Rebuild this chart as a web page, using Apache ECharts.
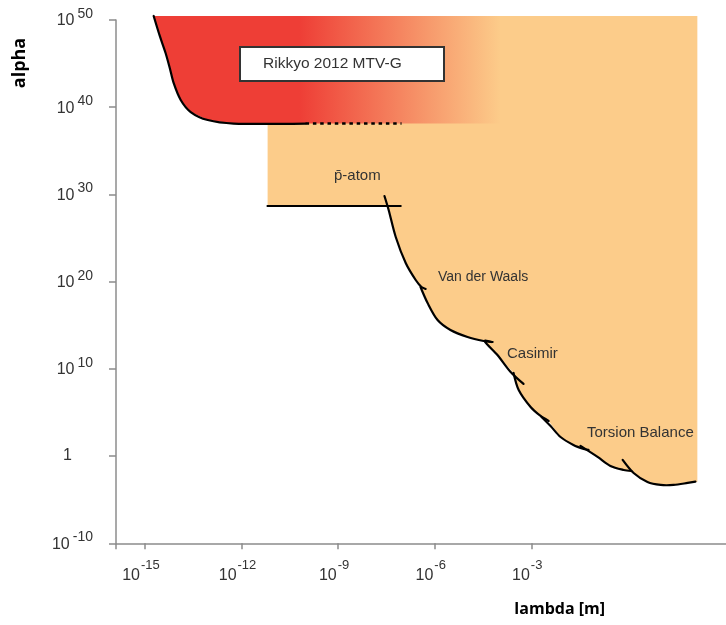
<!DOCTYPE html>
<html>
<head>
<meta charset="utf-8">
<script src="https://cdn.jsdelivr.net/npm/echarts@6/dist/echarts.min.js"></script>
<style>
html,body{margin:0;padding:0;background:#fff;}
#chart{width:726px;height:625px;}
</style>
</head>
<body>
<div id="chart"></div>
<script>
// ---- Axes (log10 values) ----
const xTicks = [-15, -12, -9, -6, -3];
const yTicks = [-10, 0, 10, 20, 30, 40, 50];

// ---- Rikkyo 2012 MTV-G excluded region boundary (log10 lambda, log10 alpha) ----
const rikkyoX = [-14.73, -14.54, -14.36, -14.23, -14.11, -13.89, -13.58, -13.05, -12.25, -10.01];
const rikkyoY = [50.46, 48.17, 46.22, 44.50, 42.78, 40.83, 39.45, 38.53, 38.13, 38.13];
// dotted continuation
const dottedX = [-10.01, -7.03];
const dottedY = [38.13, 38.13];
// gradient region right edge
const rikkyoFadeX = -3.95;

// ---- Excluded region (orange) envelope ----
const regionTop = 50.46;
const regionX = [-11.19, 2.16, 2.16, 2.10, 1.86, 1.42, 1.02, 0.61, 0.18, -0.13, -0.54, -0.94, -1.37, -1.69, -2.09, -2.46, -2.71, -3.02, -3.39, -3.55, -4.05, -4.48, -4.98, -5.51, -5.91, -6.22, -6.41, -6.59, -6.90, -7.21, -7.43, -7.48, -11.19];
const regionY = [50.46, 50.46, -2.97, -2.93, -3.08, -3.31, -3.31, -2.97, -1.94, -1.59, -1.13, -0.09, 0.82, 1.28, 2.19, 4.03, 4.60, 5.63, 7.58, 9.53, 11.59, 13.20, 13.66, 14.46, 15.60, 17.55, 19.27, 20.19, 22.14, 25.12, 28.22, 28.67, 28.67];

// ---- Experimental limit curves ----
const pAtomX = [-11.22, -7.03];
const pAtomY = [28.67, 28.67];
const vdw1X = [-7.56, -7.43, -7.21, -6.90, -6.59, -6.41, -6.28];
const vdw1Y = [29.82, 28.22, 25.12, 22.14, 20.19, 19.39, 19.16];
const vdw2X = [-6.44, -6.22, -5.91, -5.51, -4.98, -4.48, -4.20];
const vdw2Y = [19.39, 17.55, 15.60, 14.46, 13.66, 13.20, 13.08];
const casimirX = [-4.23, -4.45, -4.05, -3.64, -3.24];
const casimirY = [13.08, 13.20, 11.59, 9.64, 8.27];
const tb1X = [-3.55, -3.39, -3.02, -2.71, -2.46];
const tb1Y = [9.53, 7.58, 5.63, 4.60, 4.03];
const tb2X = [-2.68, -2.40, -2.09, -1.69, -1.37, -1.22];
const tb2Y = [4.49, 3.45, 2.19, 1.28, 0.82, 0.71];
const tb3X = [-1.47, -0.94, -0.54, -0.13, 0.11];
const tb3Y = [1.17, -0.09, -1.13, -1.59, -1.71];
const tb4X = [-0.16, 0.18, 0.61, 1.02, 1.42, 1.86, 2.10];
const tb4Y = [-0.44, -1.94, -2.97, -3.31, -3.31, -3.08, -2.93];

const RED = '#EE3E36';
const ORANGE = '#FCCC8A';
const TXT = '#333333';

function zip(xs, ys) { return xs.map((x, i) => [x, ys[i]]); }

function polySeries(points, style, z) {
  return {
    type: 'custom', coordinateSystem: 'cartesian2d', clip: false, z: z, silent: true,
    data: points,
    renderItem: function (params, api) {
      if (params.dataIndex !== 0) return null;
      const pts = points.map(p => api.coord(p));
      return { type: 'polygon', shape: { points: pts }, style: style };
    }
  };
}
function lineSeries(points, style, z, smooth) {
  return {
    type: 'custom', coordinateSystem: 'cartesian2d', clip: false, z: z, silent: true,
    data: points,
    renderItem: function (params, api) {
      if (params.dataIndex !== 0) return null;
      const pts = points.map(p => api.coord(p));
      return { type: 'polyline', shape: { points: pts, smooth: smooth || 0 }, style: Object.assign({ fill: null }, style) };
    }
  };
}

const rikkyoPts = zip(rikkyoX, rikkyoY);
const redPoly = rikkyoPts.concat([[rikkyoFadeX, rikkyoY[rikkyoY.length - 1]], [rikkyoFadeX, regionTop]]);
const lineStyle = { stroke: '#000', lineWidth: 2.2, lineCap: 'round', lineJoin: 'round' };

const chart = echarts.init(document.getElementById('chart'));
const option = {
  animation: false,
  grid: { left: 116, right: 0, top: 20, bottom: 81.7, containLabel: false },
  xAxis: {
    type: 'value', min: -15.9, max: 3.05,
    splitLine: { show: false },
    axisLine: { onZero: false, lineStyle: { color: '#8c8c8c', width: 1.5 } },
    axisTick: { show: true, length: 6, customValues: [-15.9].concat(xTicks), lineStyle: { color: '#8c8c8c', width: 1.5 } },
    axisLabel: {
      customValues: xTicks, margin: 16,
      fontFamily: 'Liberation Sans', color: TXT,
      formatter: v => '{b|10}{s|' + v + '}',
      rich: {
        b: { fontSize: 16, lineHeight: 24, verticalAlign: 'bottom', color: TXT, fontFamily: 'Liberation Sans' },
        s: { fontSize: 13, lineHeight: 12, verticalAlign: 'top', color: TXT, fontFamily: 'Liberation Sans', padding: [0, 8, 0, 1] }
      }
    }
  },
  yAxis: {
    type: 'value', min: -10, max: 50, interval: 10,
    splitLine: { show: false },
    axisLine: { onZero: false, lineStyle: { color: '#8c8c8c', width: 1.5 } },
    axisTick: { show: true, length: 7, lineStyle: { color: '#8c8c8c', width: 1.5 } },
    axisLabel: {
      margin: 23, color: TXT, fontFamily: 'Liberation Sans', padding: [0, 0, 4, 0],
      formatter: v => v === 0 ? '{one|1}' : '{b|10}{s|' + v + '}',
      rich: {
        b: { fontSize: 16, lineHeight: 22, verticalAlign: 'bottom', color: TXT, fontFamily: 'Liberation Sans' },
        s: { fontSize: 14, lineHeight: 12, verticalAlign: 'top', color: TXT, fontFamily: 'Liberation Sans', padding: [0, 0, 0, 3] },
        one: { fontSize: 16, lineHeight: 22, color: TXT, fontFamily: 'Liberation Sans', padding: [4, 21, 0, 0] }
      }
    }
  },
  series: [
    polySeries(zip(regionX, regionY), { fill: ORANGE }, 1),
    polySeries(redPoly, {
      fill: new echarts.graphic.LinearGradient(0, 0, 1, 0, [
        { offset: 0, color: RED }, { offset: 0.42, color: RED }, { offset: 1, color: ORANGE }
      ])
    }, 2),
    lineSeries(rikkyoPts, lineStyle, 5, 0.3),
    lineSeries(zip(dottedX, dottedY), { stroke: '#000', lineWidth: 2.6, lineDash: [3.5, 3.8] }, 5),
    lineSeries(zip(pAtomX, pAtomY), { stroke: '#000', lineWidth: 2 }, 5),
    lineSeries(zip(vdw1X, vdw1Y), lineStyle, 5, 0.3),
    lineSeries(zip(vdw2X, vdw2Y), lineStyle, 5, 0.3),
    lineSeries(zip(casimirX, casimirY), lineStyle, 5, 0.3),
    lineSeries(zip(tb1X, tb1Y), lineStyle, 5, 0.3),
    lineSeries(zip(tb2X, tb2Y), lineStyle, 5, 0.3),
    lineSeries(zip(tb3X, tb3Y), lineStyle, 5, 0.3),
    lineSeries(zip(tb4X, tb4Y), lineStyle, 5, 0.3)
  ],
  graphic: [
    {
      type: 'rect', z: 100, shape: { x: 240, y: 47, width: 204, height: 34 },
      style: { fill: '#fff', stroke: '#333', lineWidth: 2 }
    },
    {
      type: 'text', z: 101, x: 263, y: 64,
      style: { text: 'Rikkyo 2012 MTV-G', fill: TXT, font: '15.5px "Liberation Sans"', verticalAlign: 'middle' }
    },
    {
      type: 'text', z: 101, x: 334, y: 176,
      style: { text: 'p\u0304-atom', fill: TXT, font: '15px "Liberation Sans"', verticalAlign: 'middle' }
    },
    {
      type: 'text', z: 101, x: 438, y: 277,
      style: { text: 'Van der Waals', fill: TXT, font: '14px "Liberation Sans"', verticalAlign: 'middle' }
    },
    {
      type: 'text', z: 101, x: 507, y: 354,
      style: { text: 'Casimir', fill: TXT, font: '15px "Liberation Sans"', verticalAlign: 'middle' }
    },
    {
      type: 'text', z: 101, x: 587, y: 433,
      style: { text: 'Torsion Balance', fill: TXT, font: '15px "Liberation Sans"', verticalAlign: 'middle' }
    },
    {
      type: 'text', z: 101, x: 20, y: 63, rotation: Math.PI / 2,
      style: { text: 'alpha', fill: '#000', font: 'bold 18px "Open Sans"', align: 'center', verticalAlign: 'middle' }
    },
    {
      type: 'text', z: 101, x: 605, y: 609,
      style: { text: 'lambda [m]', fill: '#000', font: 'bold 16px "Open Sans"', align: 'right', verticalAlign: 'middle' }
    }
  ]
};
chart.setOption(option);
</script>
</body>
</html>
